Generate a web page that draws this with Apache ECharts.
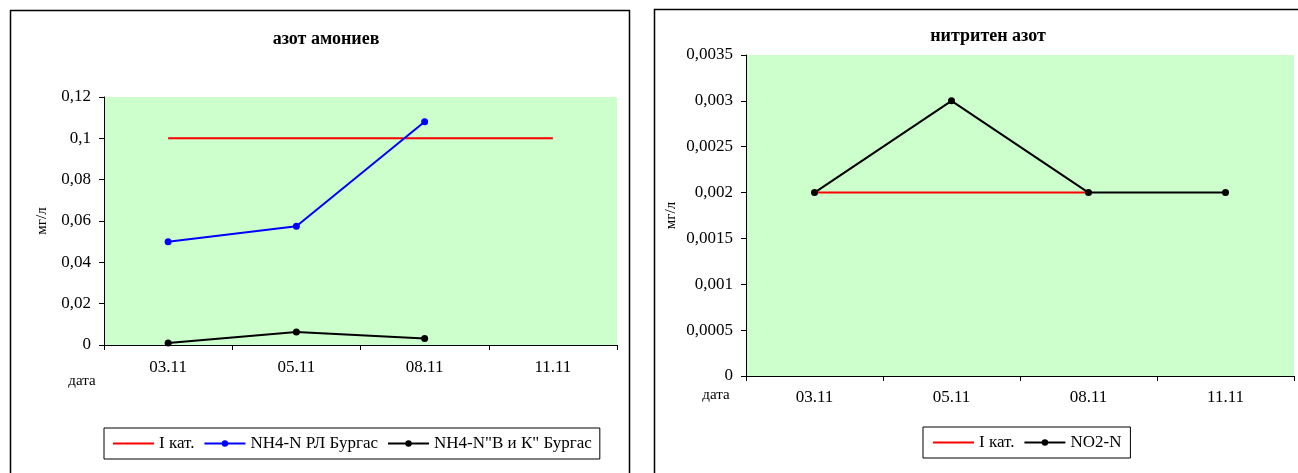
<!DOCTYPE html>
<html>
<head>
<meta charset="utf-8">
<script src="https://cdn.jsdelivr.net/npm/echarts@6/dist/echarts.min.js"></script>
<style>
html,body{margin:0;padding:0;background:#fff;}
#main{width:1298px;height:473px;}
</style>
</head>
<body>
<div id="main"></div>
<script>
// ---- data ----
const categories = ['03.11', '05.11', '08.11', '11.11'];
const leftTitle = 'азот амониев';
const rightTitle = 'нитритен азот';
const limitName = 'I кат.';
const limitLeft = [0.1, 0.1, 0.1, 0.1];
const nh4RLName = 'NH4-N РЛ Бургас';
const nh4RL = [0.05, 0.0575, 0.108, null];
const nh4VKName = 'NH4-N"В и К" Бургас';
const nh4VK = [0.001, 0.0063, 0.0032, null];
const limitRight = [0.002, 0.002, 0.002, null];
const no2Name = 'NO2-N';
const no2 = [0.002, 0.003, 0.002, 0.002];
const leftYMax = 0.12, leftYInterval = 0.02;
const rightYMax = 0.0035, rightYInterval = 0.0005;
const yUnit = 'мг/л';
const xName = 'дата';

const FONT = '"Liberation Serif", "Times New Roman", serif';
const fmt = v => String(+v.toPrecision(6)).replace('.', ',');

function xAxis(gridIndex, margin) {
  return {
    type: 'category', gridIndex, data: categories, boundaryGap: true,
    axisLine: {lineStyle: {color: '#000', width: 1}},
    axisTick: {show: true, alignWithLabel: false, length: 5, lineStyle: {color: '#000'}},
    axisLabel: {color: '#000', fontFamily: FONT, fontSize: 17, margin},
    splitLine: {show: false}
  };
}
function yAxis(gridIndex, max, interval, nameGap) {
  return {
    type: 'value', gridIndex, min: 0, max, interval,
    name: yUnit, nameLocation: 'middle', nameRotate: 90, nameGap,
    nameTextStyle: {color: '#000', fontFamily: FONT, fontSize: 15},
    axisLine: {show: true, lineStyle: {color: '#000', width: 1}},
    axisTick: {show: true, length: 5, lineStyle: {color: '#000'}},
    axisLabel: {color: '#000', fontFamily: FONT, fontSize: 17, margin: 13, formatter: fmt},
    splitLine: {show: false}
  };
}
const legendCommon = {
  orient: 'horizontal', borderColor: '#000', borderWidth: 1, padding: [7, 8],
  itemWidth: 41, itemHeight: 8, itemGap: 9,
  textStyle: {color: '#000', fontFamily: FONT, fontSize: 17}
};
const noSymbol = {opacity: 0};

const chart = echarts.init(document.getElementById('main'), null, {renderer: 'canvas'});
chart.setOption({
  animation: false,
  backgroundColor: '#fff',
  title: [
    {text: leftTitle, left: 321, top: 25, textAlign: 'center',
     textStyle: {fontFamily: FONT, fontSize: 18, fontWeight: 'bold', color: '#000'}},
    {text: rightTitle, left: 983, top: 22, textAlign: 'center',
     textStyle: {fontFamily: FONT, fontSize: 18, fontWeight: 'bold', color: '#000'}}
  ],
  legend: [
    Object.assign({}, legendCommon, {left: 104, top: 428,
      data: [{name: limitName, itemStyle: noSymbol}, nh4RLName, nh4VKName]}),
    Object.assign({}, legendCommon, {left: 923, top: 427, padding: [7, 9],
      data: [{name: limitName, itemStyle: noSymbol}, no2Name]})
  ],
  grid: [
    {left: 104, top: 97, width: 513, height: 248, show: true, backgroundColor: '#CCFFCC', borderWidth: 0},
    {left: 746, top: 55, width: 548, height: 321, show: true, backgroundColor: '#CCFFCC', borderWidth: 0}
  ],
  xAxis: [xAxis(0, 14), xAxis(1, 13)],
  yAxis: [yAxis(0, leftYMax, leftYInterval, 54), yAxis(1, rightYMax, rightYInterval, 67)],
  graphic: [
    {type: 'rect', shape: {x: 10.5, y: 10.5, width: 619, height: 500}, style: {fill: 'none', stroke: '#000', lineWidth: 1.5}},
    {type: 'rect', shape: {x: 654.5, y: 9.5, width: 700, height: 500}, style: {fill: 'none', stroke: '#000', lineWidth: 1.5}},
    {type: 'text', x: 82, y: 381, style: {text: xName, fill: '#000', font: '15px ' + FONT, textAlign: 'center', textVerticalAlign: 'middle'}},
    {type: 'text', x: 716, y: 395, style: {text: xName, fill: '#000', font: '15px ' + FONT, textAlign: 'center', textVerticalAlign: 'middle'}}
  ],
  series: [
    {name: limitName, type: 'line', xAxisIndex: 0, yAxisIndex: 0, data: limitLeft, symbol: 'none',
     lineStyle: {color: '#FF0000', width: 2}, itemStyle: {color: '#FF0000'}},
    {name: nh4RLName, type: 'line', xAxisIndex: 0, yAxisIndex: 0, data: nh4RL, symbol: 'circle', symbolSize: 7,
     lineStyle: {color: '#0000FF', width: 2}, itemStyle: {color: '#0000FF'}},
    {name: nh4VKName, type: 'line', xAxisIndex: 0, yAxisIndex: 0, data: nh4VK, symbol: 'circle', symbolSize: 7,
     lineStyle: {color: '#000', width: 2}, itemStyle: {color: '#000'}},
    {name: limitName, type: 'line', xAxisIndex: 1, yAxisIndex: 1, data: limitRight, symbol: 'none',
     lineStyle: {color: '#FF0000', width: 2}, itemStyle: {color: '#FF0000'}},
    {name: no2Name, type: 'line', xAxisIndex: 1, yAxisIndex: 1, data: no2, symbol: 'circle', symbolSize: 7,
     lineStyle: {color: '#000', width: 2}, itemStyle: {color: '#000'}}
  ]
});
</script>
</body>
</html>
